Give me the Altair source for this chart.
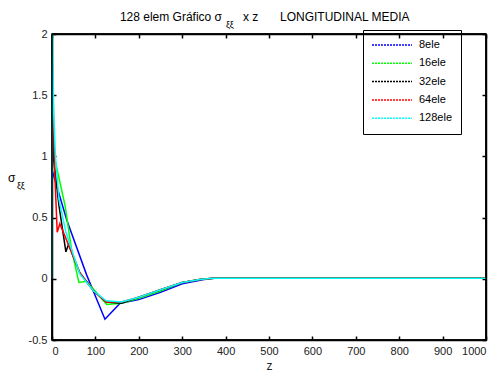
import altair as alt
import pandas as pd

series_names = ["8ele", "16ele", "32ele", "64ele", "128ele"]
series_colors = ["#0000ff", "#00ff00", "#000000", "#ff0000", "#00ffff"]

blue_z = [0, 34, 80, 122, 157, 200, 250, 300, 350, 375, 1000]
blue_s = [0.89, 0.48, 0.03, -0.33, -0.20, -0.17, -0.11, -0.04, -0.005, 0.005, 0.005]

green_z = [2, 30, 45, 62, 80, 126, 160, 200, 250, 300, 340, 375, 1000]
green_s = [1.05, 0.60, 0.24, -0.03, -0.02, -0.21, -0.20, -0.16, -0.10, -0.03, -0.005, 0.005, 0.005]

black_z = [0, 3, 16, 32, 38, 64, 96, 125, 160, 200, 250, 300, 340, 370, 1000]
black_s = [1.95, 1.0, 0.6, 0.22, 0.28, 0.05, -0.10, -0.19, -0.20, -0.15, -0.09, -0.03, -0.005, 0.005, 0.005]

red_z = [1, 6, 12, 18, 32, 64, 96, 125, 160, 200, 250, 300, 340, 370, 1000]
red_s = [1.75, 0.9, 0.38, 0.45, 0.33, 0.05, -0.10, -0.19, -0.19, -0.15, -0.09, -0.03, -0.005, 0.005, 0.005]

cyan_z = [0, 1, 4, 8, 16, 32, 64, 96, 125, 160, 200, 250, 300, 340, 370, 1000]
cyan_s = [0.0, 2.0, 1.35, 1.0, 0.65, 0.38, 0.04, -0.10, -0.18, -0.19, -0.15, -0.09, -0.03, -0.005, 0.005, 0.005]

x_ticks = [0, 100, 200, 300, 400, 500, 600, 700, 800, 900, 1000]
y_ticks = [-0.5, 0, 0.5, 1, 1.5, 2]
x_range = [0, 1000]
y_range = [-0.5, 2]

W, H = 434, 306
FONT = "Liberation Sans"
INWARD = alt.ExprRef(expr="-4")

rows = []
for name, zs, ss in zip(series_names,
                        [blue_z, green_z, black_z, red_z, cyan_z],
                        [blue_s, green_s, black_s, red_s, cyan_s]):
    for i, (z, s) in enumerate(zip(zs, ss)):
        rows.append({"serie": name, "z": z, "s": s, "i": i})
df = pd.DataFrame(rows)


def ax(values, orient, labels=True, title=None, pad=9):
    kw = dict(values=values, orient=orient, grid=False, domain=True,
              domainColor="#000000", domainWidth=1.5, ticks=True,
              tickColor="#000000", tickWidth=1.5, tickSize=INWARD,
              labels=labels)
    if labels:
        kw.update(labelPadding=pad, labelFontSize=11, labelFont=FONT,
                  labelColor="#222", labelExpr="toString(datum.value)")
    if title is None:
        kw["title"] = None
    else:
        kw.update(title=title, titleFont=FONT, titleFontSize=12,
                  titleFontWeight="normal", titleColor="#222", titlePadding=4)
    return alt.Axis(**kw)


lines = alt.Chart(df).mark_line(strokeWidth=1.5).encode(
    x=alt.X("z:Q", scale=alt.Scale(domain=x_range, nice=False, zero=False),
            axis=ax(x_ticks, "bottom", True, "z")),
    y=alt.Y("s:Q", scale=alt.Scale(domain=y_range, nice=False, zero=False),
            axis=ax(y_ticks, "left", True, None)),
    color=alt.Color("serie:N",
                    scale=alt.Scale(domain=series_names, range=series_colors),
                    sort=series_names,
                    legend=alt.Legend(orient="none", legendX=311, legendY=-4,
                                      title=None, symbolType="stroke",
                                      symbolSize=1600, symbolStrokeWidth=1.5,
                                      symbolDash=[2, 1], clipHeight=14,
                                      rowPadding=4.3, labelFontSize=11,
                                      labelFont=FONT, labelColor="#000",
                                      labelOffset=6, padding=8,
                                      strokeColor="#000000")),
    order=alt.Order("i:Q"),
)

# frame along the axis limits, carrying the top and right axes
frame_df = pd.DataFrame({
    "fx1": [x_range[0], x_range[0], x_range[0], x_range[1]],
    "fx2": [x_range[1], x_range[1], x_range[0], x_range[1]],
    "fy1": [y_range[0], y_range[1], y_range[0], y_range[0]],
    "fy2": [y_range[0], y_range[1], y_range[1], y_range[1]],
})
frame = alt.Chart(frame_df).mark_rule(color="#000000", strokeWidth=1.5).encode(
    x=alt.X("fx1:Q", scale=alt.Scale(domain=x_range, nice=False, zero=False),
            axis=ax(x_ticks, "top", False, None)),
    x2="fx2:Q",
    y=alt.Y("fy1:Q", scale=alt.Scale(domain=y_range, nice=False, zero=False),
            axis=ax(y_ticks, "right", False, None)),
    y2="fy2:Q")

ox, oy = 52, 34


def txt(s, px, py, size=12, align="left"):
    return alt.Chart(pd.DataFrame({"t": [s]})).mark_text(
        text=s, font=FONT, fontSize=size, align=align, baseline="alphabetic",
        color="#000").encode(x=alt.value(px - ox), y=alt.value(py - oy))


title1 = txt("128 elem Gráfico σ", 222, 21, 12, "right")
title2 = txt("ξξ", 226, 28, 9)
title3 = txt("x z", 243, 21, 12)
title4 = txt("LONGITUDINAL MEDIA", 280, 21, 12)
ylab1 = txt("σ", 8, 182, 12)
ylab2 = txt("ξξ", 17, 189, 9)

chart = alt.layer(
    lines, frame,
    title1, title2, title3, title4, ylab1, ylab2,
).resolve_scale(x="independent", y="independent").properties(
    width=W, height=H,
    autosize=alt.AutoSizeParams(type="none"),
    padding={"left": ox, "top": oy, "right": 499 - ox - W, "bottom": 376 - oy - H},
).configure_view(stroke="#000000", strokeWidth=1.5)

chart.save("out.html", embed_options={"renderer": "svg", "actions": False})
